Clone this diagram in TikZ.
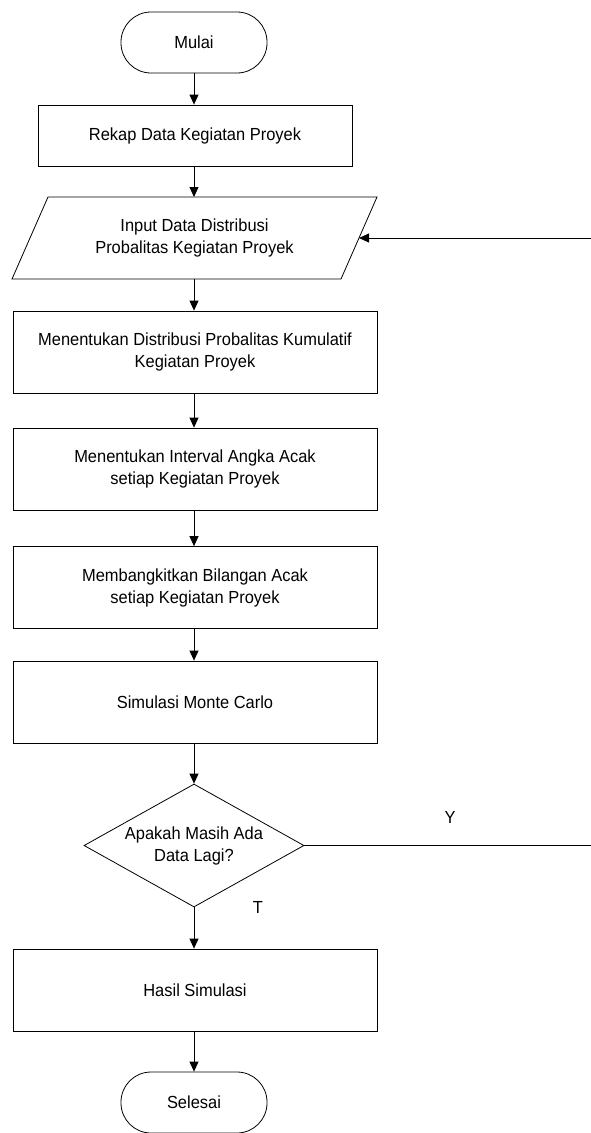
\documentclass[tikz,border=0pt]{standalone}
\usepackage{fontspec}
\setmainfont{Liberation Sans}[FakeStretch=0.94]
\usetikzlibrary{shapes.geometric,arrows.meta}
\begin{document}
\begin{tikzpicture}[x=1pt,y=-1pt,
  every node/.style={font=\fontsize{17.5}{22}\selectfont, align=center, inner sep=0pt},
  line/.style={draw=black, line width=0.8pt},
  arr/.style={line, -{Triangle[length=10pt,width=9pt]}},
  procbox/.style={line, rectangle, minimum height=82pt},
  termbox/.style={line, rectangle, rounded corners=30pt, minimum width=146pt, minimum height=61pt},
  decbox/.style={line, diamond, shape aspect=1.79, minimum width=220pt, minimum height=123pt},
  lbl/.style={font=\fontsize{17.5}{22}\selectfont}]
\useasboundingbox (0,0) rectangle (591,1133);
\node[termbox] (mulai) at (194,42.5) {Mulai};
\node[procbox, minimum width=314pt, minimum height=61pt] (rekap) at (195,135.5) {Rekap Data Kegiatan Proyek};
% parallelogram
\draw[line] (48,197) -- (377,197) -- (341,279) -- (12,279) -- cycle;
\node (inp) at (194.5,238) {Input Data Distribusi\\Probalitas Kegiatan Proyek};
\coordinate (inpN) at (194,197);
\coordinate (inpS) at (194,279);
\coordinate (inpE) at (359,238);
\node[procbox, minimum width=364pt] (b3) at (195,352) {Menentukan Distribusi Probalitas Kumulatif\\Kegiatan Proyek};
\node[procbox, minimum width=364pt] (b4) at (195,469) {Menentukan Interval Angka Acak\\setiap Kegiatan Proyek};
\node[procbox, minimum width=364pt] (b5) at (195,587.5) {Membangkitkan Bilangan Acak\\setiap Kegiatan Proyek};
\node[procbox, minimum width=364pt] (b6) at (195,702) {Simulasi Monte Carlo};
\node[decbox] (dec) at (194,845.5) {Apakah Masih Ada\\Data Lagi?};
\node[procbox, minimum width=364pt] (hasil) at (195,990) {Hasil Simulasi};
\node[termbox] (selesai) at (194,1102.5) {Selesai};
\node[lbl] (ylab) at (450,817) {Y};
\node[lbl] (tlab) at (258,907) {T};
\coordinate (retA) at (600,845.5);
\coordinate (retB) at (600,238);
\draw[arr] (mulai.south -| 194,0) -- (rekap.north -| 194,0);
\draw[arr] (rekap.south -| 194,0) -- (inpN);
\draw[arr] (inpS) -- (b3.north -| 194,0);
\draw[arr] (b3.south -| 194,0) -- (b4.north -| 194,0);
\draw[arr] (b4.south -| 194,0) -- (b5.north -| 194,0);
\draw[arr] (b5.south -| 194,0) -- (b6.north -| 194,0);
\draw[arr] (b6.south -| 194,0) -- (dec.north);
\draw[arr] (dec.south) -- (hasil.north -| 194,0);
\draw[arr] (hasil.south -| 194,0) -- (selesai.north);
\draw[arr] (dec.east) -- (retA) -- (retB) -- (inpE);
\end{tikzpicture}
\end{document}
